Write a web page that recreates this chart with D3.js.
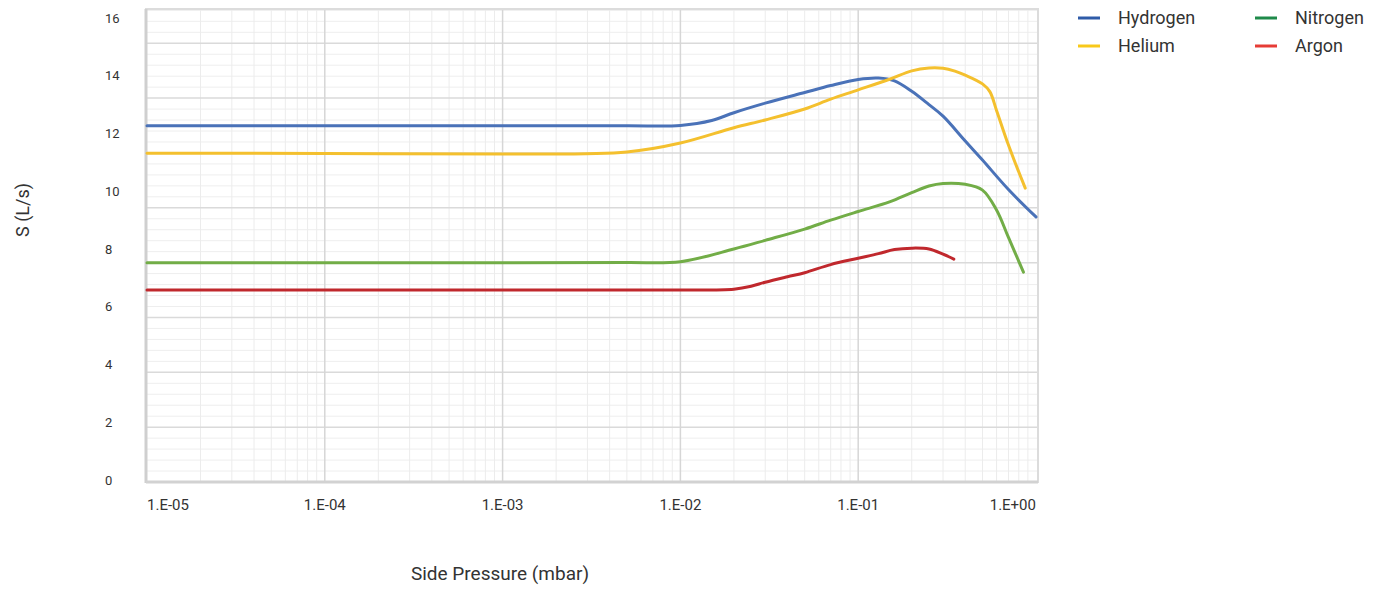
<!DOCTYPE html>
<html>
<head>
<meta charset="utf-8">
<script src="https://cdn.jsdelivr.net/npm/d3@7"></script>
<style>
  body { margin: 0; background: #fff; }
  text { font-family: Roboto, "Open Sans", sans-serif; fill: #333; }
</style>
</head>
<body>
<div id="chart"></div>
<script>
// pressure (mbar) and pumping speed S (L/s) for each gas
var h2Pressure = [1e-5, 1e-4, 1e-3, 5e-3, 1e-2, 1.5e-2, 2e-2, 3e-2, 5e-2, 7e-2, 1e-1, 1.3e-1, 1.6e-1, 2e-1, 2.5e-1, 3e-1, 4e-1, 5e-1, 7e-1, 1.0];
var h2Speed    = [12.27, 12.27, 12.27, 12.27, 12.28, 12.45, 12.72, 13.05, 13.42, 13.66, 13.87, 13.92, 13.82, 13.46, 13.0, 12.6, 11.74, 11.08, 10.06, 9.11];

var hePressure = [1e-5, 1e-4, 1e-3, 5e-3, 1e-2, 2e-2, 3e-2, 5e-2, 7e-2, 1e-1, 1.5e-1, 2e-1, 2.5e-1, 3e-1, 3.5e-1, 4e-1, 5e-1, 5.5e-1, 6e-1, 7e-1, 0.87];
var heSpeed    = [11.32, 11.31, 11.29, 11.36, 11.67, 12.2, 12.47, 12.85, 13.19, 13.51, 13.88, 14.17, 14.27, 14.26, 14.16, 14.02, 13.72, 13.45, 12.8, 11.6, 10.11];

var n2Pressure = [1e-5, 1e-4, 1e-3, 5e-3, 1e-2, 2e-2, 3e-2, 5e-2, 7e-2, 1e-1, 1.5e-1, 2e-1, 2.5e-1, 3e-1, 4e-1, 5e-1, 6e-1, 7e-1, 0.85];
var n2Speed    = [7.52, 7.52, 7.52, 7.53, 7.56, 8.0, 8.3, 8.69, 9.0, 9.3, 9.63, 9.95, 10.18, 10.27, 10.24, 10.04, 9.35, 8.4, 7.2];

var arPressure = [1e-5, 1e-4, 1e-3, 1e-2, 2e-2, 2.5e-2, 3e-2, 4e-2, 5e-2, 7e-2, 1e-1, 1.3e-1, 1.6e-1, 2e-1, 2.5e-1, 3e-1, 0.345];
var arSpeed    = [6.58, 6.58, 6.58, 6.58, 6.61, 6.71, 6.85, 7.04, 7.18, 7.46, 7.68, 7.84, 7.98, 8.03, 8.0, 7.82, 7.65];

var gasNames = ["Hydrogen", "Helium", "Nitrogen", "Argon"];
var lineColors = ["#4a72b8", "#f4c02e", "#72ad47", "#c0282d"];
var legendColors = ["#2f5ba8", "#f8c91a", "#1f8a4a", "#e63c36"];

var xTickValues = [1e-5, 1e-4, 1e-3, 1e-2, 1e-1, 1];
var xTickLabels = ["1.E-05", "1.E-04", "1.E-03", "1.E-02", "1.E-01", "1.E+00"];
var yTickValues = [0, 2, 4, 6, 8, 10, 12, 14, 16];

var series = [
    {name: gasNames[0], p: h2Pressure, s: h2Speed},
    {name: gasNames[1], p: hePressure, s: heSpeed},
    {name: gasNames[2], p: n2Pressure, s: n2Speed},
    {name: gasNames[3], p: arPressure, s: arSpeed}
];

var width = 1384, height = 591;
var plot = {left: 146, right: 1038, top: 9, bottom: 482};

var svg = d3.select("#chart").append("svg")
    .attr("width", width)
    .attr("height", height);

var x = d3.scaleLog()
    .domain([1e-5, 1])
    .range([147, 1036]);

// value scale that the tick labels follow
var y = d3.scaleLinear()
    .domain([0, 16])
    .range([480, 18]);

// gridlines of the original sit on their own spacing
var yGrid = d3.scaleLinear()
    .domain([0, 17.25])
    .range([plot.bottom, plot.top]);

//********** GRID ************
var grid = svg.append("g").attr("class", "grid");

var minorY = d3.range(0.4, 17.25, 0.4).filter(function(v) { return Math.abs(v / 2 - Math.round(v / 2)) > 0.01; });
grid.selectAll(".minor-y")
    .data(minorY)
    .enter().append("line")
    .attr("x1", plot.left).attr("x2", plot.right)
    .attr("y1", function(d) { return yGrid(d); })
    .attr("y2", function(d) { return yGrid(d); })
    .style("stroke", "#eeeeee").style("stroke-width", 1);

var minorX = [];
for (var e = -5; e < 0; e++) {
    for (var m = 2; m < 10; m++) minorX.push(m * Math.pow(10, e));
}
grid.selectAll(".minor-x")
    .data(minorX)
    .enter().append("line")
    .attr("x1", function(d) { return x(d); })
    .attr("x2", function(d) { return x(d); })
    .attr("y1", plot.top).attr("y2", plot.bottom)
    .style("stroke", "#ececec").style("stroke-width", 1);

grid.selectAll(".major-y")
    .data(d3.range(2, 17, 2))
    .enter().append("line")
    .attr("x1", plot.left).attr("x2", plot.right)
    .attr("y1", function(d) { return yGrid(d); })
    .attr("y2", function(d) { return yGrid(d); })
    .style("stroke", "#dadada").style("stroke-width", 1.5);

grid.selectAll(".major-x")
    .data(xTickValues.slice(1, -1))
    .enter().append("line")
    .attr("x1", function(d) { return x(d); })
    .attr("x2", function(d) { return x(d); })
    .attr("y1", plot.top).attr("y2", plot.bottom)
    .style("stroke", "#d6d6d6").style("stroke-width", 1.5);

// frame
svg.append("rect")
    .attr("x", plot.left).attr("y", plot.top)
    .attr("width", plot.right - plot.left)
    .attr("height", plot.bottom - plot.top)
    .style("fill", "none").style("stroke", "#dcdcdc").style("stroke-width", 2);

svg.append("line")
    .attr("x1", plot.left).attr("x2", plot.left)
    .attr("y1", plot.top).attr("y2", plot.bottom + 1)
    .style("stroke", "#cfcfcf").style("stroke-width", 3);

svg.append("line")
    .attr("x1", plot.left).attr("x2", plot.right)
    .attr("y1", plot.bottom).attr("y2", plot.bottom)
    .style("stroke", "#d2d2d2").style("stroke-width", 3);

//********** LINES ************
var line = d3.line()
    .x(function(d) { return x(d[0]); })
    .y(function(d) { return y(d[1]); })
    .curve(d3.curveCatmullRom.alpha(0.5));

svg.selectAll(".gas")
    .data(series)
    .enter().append("path")
    .attr("class", "gas")
    .attr("d", function(d) { return line(d3.zip(d.p, d.s)); })
    .style("fill", "none")
    .style("stroke", function(d, i) { return lineColors[i]; })
    .style("stroke-width", 3)
    .style("stroke-linejoin", "round")
    .style("stroke-linecap", "round");

//********** AXES ************
svg.selectAll(".ylab")
    .data(yTickValues)
    .enter().append("text")
    .attr("x", 105)
    .attr("y", function(d) { return y(d); })
    .attr("dy", ".35em")
    .style("font-size", "13px")
    .text(function(d) { return d; });

svg.selectAll(".xlab")
    .data(xTickValues)
    .enter().append("text")
    .attr("x", function(d) { return x(d); })
    .attr("y", 510)
    .style("font-size", "15px")
    .style("text-anchor", function(d, i) { return i === 0 ? "start" : (i === xTickValues.length - 1 ? "end" : "middle"); })
    .text(function(d, i) { return xTickLabels[i]; });

svg.append("text")
    .attr("x", 500)
    .attr("y", 580)
    .style("font-size", "19px")
    .style("text-anchor", "middle")
    .text("Side Pressure (mbar)");

svg.append("text")
    .attr("transform", "translate(29,210) rotate(-90)")
    .style("font-size", "18px")
    .style("text-anchor", "middle")
    .text("S (L/s)");

//********** LEGEND ************
// Hydrogen, Helium in the first column; Nitrogen, Argon in the second
var legend = svg.selectAll(".legend")
    .data(gasNames)
    .enter().append("g")
    .attr("class", "legend")
    .attr("transform", function(d, i) {
        return "translate(" + (i < 2 ? 1078 : 1255) + "," + (i % 2 === 0 ? 18 : 46) + ")";
    });

legend.append("line")
    .attr("x1", 0).attr("x2", 22)
    .style("stroke", function(d, i) { return legendColors[i]; })
    .style("stroke-width", 3);

legend.append("text")
    .attr("x", 40)
    .attr("dy", ".35em")
    .style("font-size", "18px")
    .text(function(d) { return d; });
</script>
</body>
</html>
